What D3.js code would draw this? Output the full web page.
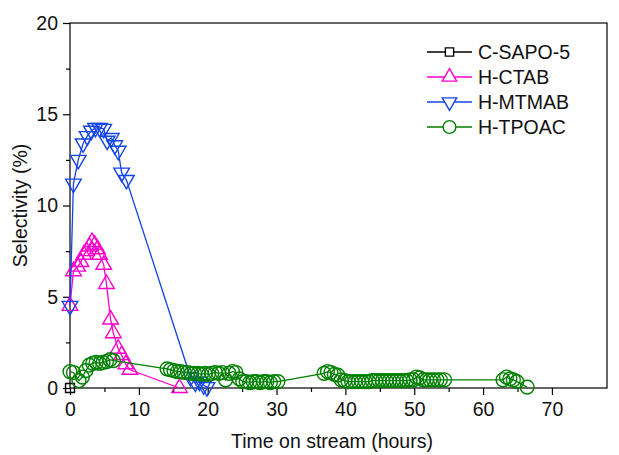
<!DOCTYPE html>
<html>
<head>
<meta charset="utf-8">
<script src="https://cdn.jsdelivr.net/npm/d3@7"></script>
<style>
  body { margin: 0; background: #fff; }
  text { font-family: "Liberation Sans", Arial, sans-serif; }
</style>
</head>
<body>
<div id="chart"></div>
<script>
// Data: [time (h), selectivity (%)]
var sapoData = [[0, 0]];

var ctabData = [[0, 4.5], [0.5, 6.4], [1.1, 6.65], [1.6, 6.9], [2.0, 7.3], [2.4, 7.5],
    [2.8, 7.75], [3.2, 8.0], [3.6, 7.85], [4.0, 7.6], [4.3, 7.3], [4.9, 6.75],
    [5.3, 5.7], [5.9, 3.75], [6.3, 3.0], [7.0, 2.15], [7.5, 1.8], [8.1, 1.3],
    [8.7, 1.0], [15.9, 0.0]];

var mtmabData = [[0, 4.5], [0.5, 11.2], [1.2, 12.5], [1.9, 13.4], [2.5, 13.8],
    [3.1, 14.1], [3.7, 14.25], [4.3, 14.25], [4.9, 14.2], [5.4, 13.55], [6.0, 13.7],
    [6.5, 13.3], [7.0, 13.0], [7.5, 11.8], [8.2, 11.4], [17.5, 0.6], [18.2, 0.3],
    [18.8, 0.35], [19.4, 0.15], [19.9, 0.05]];

var tpoacData = [[0, 0.9], [0.5, 0.85], [1.3, 0.4], [1.8, 0.6], [2.3, 0.95], [2.8, 1.25],
    [3.3, 1.35], [3.8, 1.4], [4.3, 1.35], [4.8, 1.4], [5.3, 1.45], [5.8, 1.55], [6.3, 1.5],
    [14.1, 1.05], [14.6, 1.0], [15.1, 0.95], [15.6, 0.9], [16.1, 0.9], [16.6, 0.85],
    [17.1, 0.85], [17.6, 0.8], [18.1, 0.8], [18.6, 0.8], [19.1, 0.75], [19.6, 0.8],
    [20.1, 0.75], [20.6, 0.8], [21.1, 0.85], [21.6, 0.8], [22.1, 0.85], [22.6, 0.45],
    [23.1, 0.8], [23.6, 0.9], [24.1, 0.85], [24.6, 0.5], [25.1, 0.35], [25.6, 0.35],
    [26.1, 0.3], [26.6, 0.35], [27.1, 0.35], [27.6, 0.3], [28.1, 0.35], [28.6, 0.35],
    [29.1, 0.3], [29.6, 0.35], [30.2, 0.35],
    [36.9, 0.8], [37.4, 0.9], [37.9, 0.85], [38.4, 0.75], [38.9, 0.7], [39.4, 0.45],
    [39.9, 0.4], [40.4, 0.35], [40.9, 0.35], [41.4, 0.35], [41.9, 0.35], [42.4, 0.35],
    [42.9, 0.35], [43.4, 0.35], [43.9, 0.4], [44.4, 0.4], [44.9, 0.4], [45.4, 0.4],
    [45.9, 0.4], [46.4, 0.4], [46.9, 0.4], [47.4, 0.4], [47.9, 0.4], [48.4, 0.4],
    [48.9, 0.4], [49.4, 0.45], [49.9, 0.45], [50.3, 0.6], [50.8, 0.55], [51.3, 0.45],
    [51.8, 0.45], [52.3, 0.45], [52.8, 0.45], [53.3, 0.45], [53.8, 0.45], [54.4, 0.45],
    [62.9, 0.45], [63.4, 0.6], [63.9, 0.5], [64.4, 0.45], [64.9, 0.35], [66.4, 0.05]];

var seriesNames = ["C-SAPO-5", "H-CTAB", "H-MTMAB", "H-TPOAC"];
var xTicks = [0, 10, 20, 30, 40, 50, 60, 70];
var yTicks = [0, 5, 10, 15, 20];

var svgWidth = 619;
var svgHeight = 455;
var margin = { top: 23, right: 12, bottom: 67, left: 70 };
var width = svgWidth - margin.left - margin.right;
var height = svgHeight - margin.top - margin.bottom;
var fontSize = "19.5px";

var svg = d3.select("#chart")
    .append("svg")
    .attr("width", svgWidth)
    .attr("height", svgHeight);

var chartGroup = svg.append("g")
    .attr("transform", `translate(${margin.left},${margin.top})`);

var xScale = d3.scaleLinear().domain([0, 78]).range([0, width]);
var yScale = d3.scaleLinear().domain([0, 20]).range([height, 0]);

// frame
chartGroup.append("rect")
    .attr("width", width)
    .attr("height", height)
    .attr("fill", "none")
    .attr("stroke", "#000")
    .attr("stroke-width", 1.2);

// minor ticks
var xMinor = d3.axisBottom(xScale).tickValues([5, 15, 25, 35, 45, 55, 65]).tickSize(4).tickFormat("");
var yMinor = d3.axisLeft(yScale).tickValues([2.5, 7.5, 12.5, 17.5]).tickSize(4).tickFormat("");

var bottomAxis = d3.axisBottom(xScale).tickValues(xTicks).tickSize(7).tickPadding(7);
var leftAxis = d3.axisLeft(yScale).tickValues(yTicks).tickSize(7).tickPadding(5);

[[xMinor, true], [bottomAxis, true], [yMinor, false], [leftAxis, false]].forEach(function(a) {
    var g = chartGroup.append("g").call(a[0]);
    if (a[1]) g.attr("transform", `translate(0, ${height})`);
    g.select(".domain").remove();
    g.selectAll("line").attr("stroke", "#000").attr("stroke-width", 1.2);
    g.selectAll("text")
        .attr("fill", "#111")
        .style("font-size", fontSize)
        .style("font-family", "'Liberation Sans', Arial, sans-serif");
});

// series
var series = [
    { name: seriesNames[0], data: sapoData, color: "#000000", symbol: d3.symbolSquare, size: 80, rot: 0 },
    { name: seriesNames[1], data: ctabData, color: "#ff00cc", symbol: d3.symbolTriangle, size: 105, rot: 0 },
    { name: seriesNames[2], data: mtmabData, color: "#1244e8", symbol: d3.symbolTriangle, size: 105, rot: 180 },
    { name: seriesNames[3], data: tpoacData, color: "#008000", symbol: d3.symbolCircle, size: 150, rot: 0 }
];

var line = d3.line()
    .x(d => xScale(d[0]))
    .y(d => yScale(d[1]));

series.forEach(function(s) {
    chartGroup.append("path")
        .datum(s.data)
        .attr("d", line)
        .attr("fill", "none")
        .attr("stroke", s.color)
        .attr("stroke-width", 1.3);

    chartGroup.selectAll(null)
        .data(s.data)
        .enter()
        .append("path")
        .attr("d", d3.symbol().type(s.symbol).size(s.size))
        .attr("transform", d => `translate(${xScale(d[0])},${yScale(d[1])}) rotate(${s.rot})`)
        .attr("fill", "none")
        .attr("stroke", s.color)
        .attr("stroke-width", 1.4);
});

// legend
var legend = svg.append("g").attr("transform", "translate(427, 52)");
series.forEach(function(s, i) {
    var row = legend.append("g").attr("transform", `translate(0, ${i * 25})`);
    row.append("line")
        .attr("x1", 0).attr("x2", 45)
        .attr("stroke", s.color)
        .attr("stroke-width", 1.3);
    row.append("path")
        .attr("d", d3.symbol().type(s.symbol).size(s.size * 0.85))
        .attr("transform", `translate(22.5,0) rotate(${s.rot})`)
        .attr("fill", "#fff")
        .attr("stroke", s.color)
        .attr("stroke-width", 1.4);
    row.append("text")
        .attr("x", 51)
        .attr("y", 7)
        .style("font-size", fontSize)
        .attr("fill", "#111")
        .text(s.name);
});

// axis labels
svg.append("text")
    .attr("transform", `translate(27, ${margin.top + height / 2}) rotate(-90)`)
    .style("text-anchor", "middle")
    .style("font-size", fontSize)
    .attr("fill", "#111")
    .text("Selectivity (%)");

svg.append("text")
    .attr("x", 332)
    .attr("y", 448)
    .style("text-anchor", "middle")
    .style("font-size", fontSize)
    .attr("fill", "#111")
    .text("Time on stream (hours)");
</script>
</body>
</html>
